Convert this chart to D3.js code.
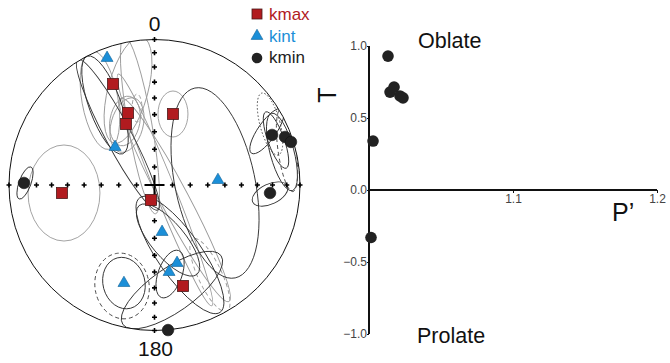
<!DOCTYPE html>
<html>
<head>
<meta charset="utf-8">
<script src="https://cdn.jsdelivr.net/npm/d3@7"></script>
<style>
  body { margin: 0; background: #fff; }
  svg { font-family: "Liberation Sans", Arial, sans-serif; }
</style>
</head>
<body>
<div id="chart"></div>
<script>
// stereonet positions in percent of the primitive radius (x = east, y = north)
const kmax = [[-28.5, 69.4], [-18.2, 49.5], [-19.6, 41.9], [12.7, 48.8], [-63.6, -5.5], [-2.4, -10.3], [19.6, -69.4]];
const kint = [[-32.6, 87.3], [-27.1, 26.1], [43.6, 3.4], [5.2, -32.3], [15.5, -53.6], [10.0, -59.8], [-21.0, -67.4]];
const kmin = [[-89.7, 1.4], [80.8, 34.4], [89.7, 33.0], [93.8, 29.6], [79.4, -5.5], [9.3, -99.7]];

// confidence ellipses: [cx, cy, rx, ry, rotation]
const darkEllipses = [
  [-89.0, 1.4, 4.1, 11.7, 20], [41.6, 1.4, 27.5, 66.7, -12], [-25.1, 34.4, 8.9, 58.4, -28],
  [-34.0, 55.0, 11.0, 35.7, -20],
  [-21.0, -67.4, 14.4, 17.9, -15], [10.7, -61.2, 8.2, 17.2, 20], [12.0, -72.2, 15.1, 41.2, 55],
  [9.3, -37.8, 11.7, 30.9, -40], [17.5, -48.1, 15.1, 48.1, -35], [77.3, 37.1, 6.2, 18.6, 35],
  [87.6, 22.7, 8.2, 27.5, -15], [79.4, -6.2, 13.1, 6.9, -25], [83.5, 30.9, 5.5, 20.6, -20]
];
const greyEllipses = [
  [-62.2, -5.5, 24.7, 33.0, 0], [12.7, 48.8, 10.3, 15.8, 0], [-37.5, 58.4, 12.4, 34.4, -10],
  [-20.3, 44.0, 10.3, 17.2, 10], [-10.0, 41.2, 8.2, 61.9, -10], [-18.9, 41.2, 11.0, 19.2, 15],
  [7.2, -3.4, 6.9, 85.9, -22], [14.1, -10.3, 9.6, 79.0, -28], [-18.2, 65.3, 13.7, 37.8, 15]
];
const dashedGrey = [[-12.0, 52.9, 3.4, 9.6, 0], [38.1, -61.9, 8.2, 27.5, -25]];
const dashedDark = [[-22.3, -69.4, 18.6, 22.7, -10], [91.1, 24.1, 6.2, 28.9, -8]];
const dottedDark = [[79.4, 41.9, 6.9, 22.0, -15]];

const gridAngles = d3.range(10, 91, 10);
const axisLabels = ["0", "180"];
const legendNames = ["kmax", "kint", "kmin"];

// T vs P' diagram
const pPrime = [1.0132, 1.0146, 1.0174, 1.0215, 1.0236, 1.0028, 1.0014];
const tShape = [0.93, 0.68, 0.715, 0.653, 0.64, 0.34, -0.33];
const tTicks = [1.0, 0.5, 0.0, -0.5, -1.0];
const pTicks = [1.1, 1.2];

const width = 670, height = 363;
const svg = d3.select("#chart").append("svg").attr("width", width).attr("height", height);

const cx = 154.5, cy = 185, R = 145.5;
const sx = d3.scaleLinear().domain([-100, 100]).range([cx - R, cx + R]);
const sy = d3.scaleLinear().domain([-100, 100]).range([cy + R, cy - R]);
const k = R / 100;
// equal-area distance from centre for a given angle from vertical
const eqArea = a => 100 * Math.SQRT2 * Math.sin(a / 2 * Math.PI / 180);

svg.append("clipPath").attr("id", "prim")
  .append("circle").attr("cx", cx).attr("cy", cy).attr("r", R);

const eg = svg.append("g").attr("clip-path", "url(#prim)").attr("fill", "none");

function drawEllipses(data, stroke, sw, dash) {
  eg.selectAll(null).data(data).enter().append("ellipse")
    .attr("transform", d => `translate(${sx(d[0])},${sy(d[1])}) rotate(${d[4]})`)
    .attr("rx", d => d[2] * k)
    .attr("ry", d => d[3] * k)
    .attr("stroke", stroke)
    .attr("stroke-width", sw)
    .attr("stroke-dasharray", dash);
}
drawEllipses(greyEllipses, "#999", 0.9, null);
drawEllipses(dashedGrey, "#999", 0.9, "4,3");
drawEllipses(darkEllipses, "#333", 0.9, null);
drawEllipses(dashedDark, "#444", 0.9, "4,3");
drawEllipses(dottedDark, "#444", 0.9, "1.5,2");

// primitive
svg.append("circle").attr("cx", cx).attr("cy", cy).attr("r", R)
  .attr("fill", "none").attr("stroke", "#111").attr("stroke-width", 1);

// grid ticks along the N-S and E-W axes
const tickPts = [];
gridAngles.forEach(a => {
  const r = eqArea(a);
  tickPts.push([r, 0], [-r, 0], [0, r], [0, -r]);
});
const tg = svg.append("g").attr("stroke", "#000").attr("stroke-width", 1.6);
tg.selectAll("path").data(tickPts).enter().append("path")
  .attr("d", d => `M${sx(d[0]) - 2.5},${sy(d[1])}h5M${sx(d[0])},${sy(d[1]) - 2.5}v5`);

// centre cross
svg.append("path")
  .attr("d", `M${sx(0) - 10},${sy(0)}h20M${sx(0)},${sy(0) - 10}v20`)
  .attr("stroke", "#000").attr("stroke-width", 2);

svg.append("text").attr("x", sx(0)).attr("y", 31).attr("text-anchor", "middle")
  .attr("font-size", 21).attr("fill", "#111").text(axisLabels[0]);
svg.append("text").attr("x", sx(0) + 1).attr("y", 356).attr("text-anchor", "middle")
  .attr("font-size", 21).attr("fill", "#111").text(axisLabels[1]);

// markers
const red = "#b11b1f", blue = "#1b8fd8", black = "#222";
const tri = d3.symbol().type(d3.symbolTriangle).size(62);

svg.append("g").selectAll("circle").data(kmin).enter().append("circle")
  .attr("cx", d => sx(d[0])).attr("cy", d => sy(d[1])).attr("r", 5.8)
  .attr("fill", black).attr("stroke", "#111").attr("stroke-width", 0.6);

svg.append("g").selectAll("path").data(kint).enter().append("path")
  .attr("d", tri)
  .attr("transform", d => `translate(${sx(d[0])},${sy(d[1])})`)
  .attr("fill", blue).attr("stroke", "#0e5f95").attr("stroke-width", 0.6);

svg.append("g").selectAll("rect").data(kmax).enter().append("rect")
  .attr("x", d => sx(d[0]) - 5.5).attr("y", d => sy(d[1]) - 5.5)
  .attr("width", 11).attr("height", 11)
  .attr("fill", red).attr("stroke", "#4a1a1a").attr("stroke-width", 0.8);

// legend
const lg = svg.append("g").attr("font-size", 17);
lg.append("rect").attr("x", 252).attr("y", 9).attr("width", 10).attr("height", 10)
  .attr("fill", red).attr("stroke", "#4a1a1a").attr("stroke-width", 0.8);
lg.append("path").attr("d", d3.symbol().type(d3.symbolTriangle).size(60))
  .attr("transform", "translate(257,36)")
  .attr("fill", blue).attr("stroke", "#0e5f95").attr("stroke-width", 0.6);
lg.append("circle").attr("cx", 257).attr("cy", 58).attr("r", 5.3).attr("fill", black);
const legendColors = [red, blue, black];
lg.selectAll("text").data(legendNames).enter().append("text")
  .attr("x", 269).attr("y", (d, i) => 20 + i * 21.7)
  .attr("fill", (d, i) => legendColors[i]).text(d => d);

// ---- T vs P' plot ----
const px = d3.scaleLinear().domain([1.0, 1.2]).range([369, 657]);
const py = d3.scaleLinear().domain([-1, 1]).range([334, 46]);

const yAxis = svg.append("g").attr("transform", `translate(${px(1.0)},0)`)
  .call(d3.axisLeft(py).tickValues(tTicks).tickSize(2).tickSizeOuter(0)
    .tickFormat(d3.format(".1f")));
const xAxis = svg.append("g").attr("transform", `translate(0,${py(0)})`)
  .call(d3.axisBottom(px).tickValues(pTicks).tickSize(3).tickSizeOuter(0)
    .tickFormat(d3.format(".1f")));

[yAxis, xAxis].forEach(a => {
  a.select(".domain").attr("stroke", "#111").attr("stroke-width", 2);
  a.selectAll(".tick line").attr("stroke", "#111");
  a.selectAll(".tick text").attr("font-size", 12).attr("fill", "#444")
    .attr("font-family", "Liberation Sans, Arial, sans-serif");
});
yAxis.selectAll(".tick text").attr("x", -2);
xAxis.selectAll(".tick text").attr("y", 4);
xAxis.select(".domain").attr("d", `M${px(1.0)},0H${px(1.2)}`);
yAxis.select(".domain").attr("d", `M0,${py(1)}V${py(-1)}`);

svg.append("g").selectAll("circle").data(pPrime).enter().append("circle")
  .attr("cx", d => px(d)).attr("cy", (d, i) => py(tShape[i])).attr("r", 5.8)
  .attr("fill", black);

svg.append("text").attr("transform", "translate(336,95) rotate(-90)")
  .attr("text-anchor", "middle").attr("font-size", 25).attr("fill", "#111").text("T");
svg.append("text").attr("x", 612).attr("y", 221).attr("font-size", 25)
  .attr("fill", "#111").text("P\u2019");
svg.append("text").attr("x", 418).attr("y", 48).attr("font-size", 21.5)
  .attr("fill", "#111").text("Oblate");
svg.append("text").attr("x", 417).attr("y", 343).attr("font-size", 21.5)
  .attr("fill", "#111").text("Prolate");
</script>
</body>
</html>
